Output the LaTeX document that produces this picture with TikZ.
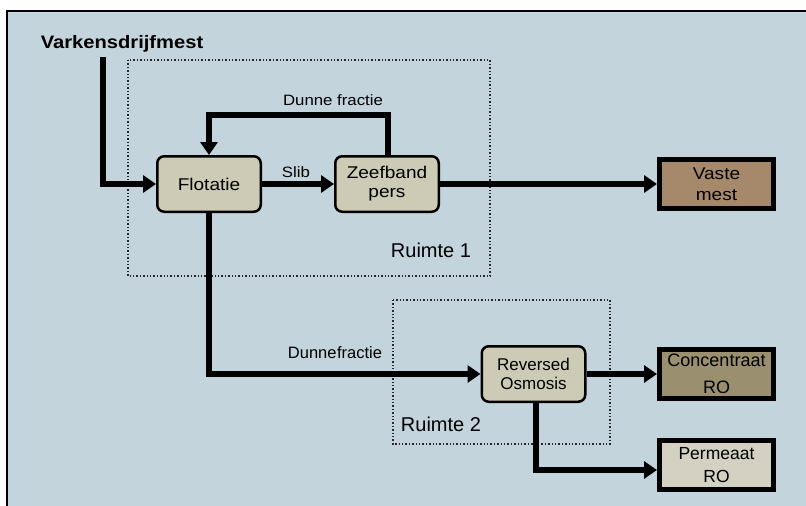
\documentclass[tikz,border=0pt]{standalone}
\usepackage{fontspec}
\setmainfont{Liberation Sans}
\newfontfamily\widefont[FakeStretch=1.12]{Liberation Sans}
\usetikzlibrary{arrows.meta}
\definecolor{bgc}{RGB}{195,212,220}
\definecolor{procc}{RGB}{205,202,182}
\definecolor{vastec}{RGB}{166,137,107}
\definecolor{concc}{RGB}{154,143,110}
\definecolor{permc}{RGB}{212,208,194}
\definecolor{dotc}{RGB}{40,40,40}
\tikzset{
  procbox/.style={draw=black, fill=procc, line width=2.5pt, rounded corners=7pt,
    minimum width=103.5pt, minimum height=55.5pt, inner sep=0pt, align=center,
    font=\widefont\fontsize{17}{19}\selectfont},
  outbox/.style={draw=black, line width=5pt, minimum width=114pt, minimum height=49pt,
    inner sep=0pt, align=center},
  flow/.style={line width=6pt, -{Triangle[length=13pt,width=17pt]}},
  lbl/.style={inner sep=0pt, font=\widefont\fontsize{15}{17}\selectfont},
  room/.style={draw=dotc, dotted, line width=1.4pt},
  roomlbl/.style={inner sep=0pt, font=\fontsize{20}{22}\selectfont}
}
\begin{document}
\begin{tikzpicture}[x=1pt,y=-1pt]
\useasboundingbox (0,0) rectangle (806,506);
\fill[bgc] (7,11) rectangle (806,506);
\draw[line width=2pt] (7,506) -- (7,11) -- (806,11);

% rooms
\draw[room] (128,60) rectangle (490,276);
\draw[room] (393,300) rectangle (610,444);
\node[roomlbl] (r1) at (431,250) {Ruimte 1};
\node[roomlbl] (r2) at (441,424) {Ruimte 2};

% nodes
\node[inner sep=0pt, font=\widefont\bfseries\fontsize{18}{20}\selectfont] (in) at (122,44) {Varkensdrijfmest};
\coordinate (vin) at (103,57);
\node[procbox] (flot) at (209,184) {Flotatie};
\node[procbox] (zeef) at (387,184) {Zeefband\\pers};
\node[procbox, font=\fontsize{17}{19}\selectfont] (ro) at (533.5,374) {Reversed\\Osmosis};
\node[outbox, fill=vastec, font=\widefont\fontsize{17}{21}\selectfont] (vaste) at (716.5,184) {Vaste\\mest};
\node[outbox, fill=concc, font=\fontsize{18}{27}\selectfont] (conc) at (716.5,374) {Concentraat\\RO};
\node[outbox, fill=permc, font=\fontsize{17.5}{23}\selectfont] (perm) at (716.5,465) {Permeaat\\RO};

% labels
\node[lbl] (ldf1) at (333,100) {Dunne fractie};
\node[lbl] (lslib) at (296,172) {Slib};
\node[lbl, font=\fontsize{16.5}{18}\selectfont] (ldf2) at (335,353) {Dunne\hspace{0.5pt}fractie};

% connectors
\draw[flow] (vin) |- (flot.west);
\draw[flow] (flot.east) -- (zeef.west);
\draw[flow] ([xshift=1pt]zeef.north) -- ++(0,-40) -| (flot.north);
\draw[flow] (zeef.east) -- (vaste.west);
\draw[flow] (flot.south) |- (ro.west);
\draw[flow] (ro.east) -- (conc.west);
\draw[flow] ([xshift=2.5pt]ro.south) |- ([yshift=-5pt]perm.west);
\end{tikzpicture}
\end{document}
